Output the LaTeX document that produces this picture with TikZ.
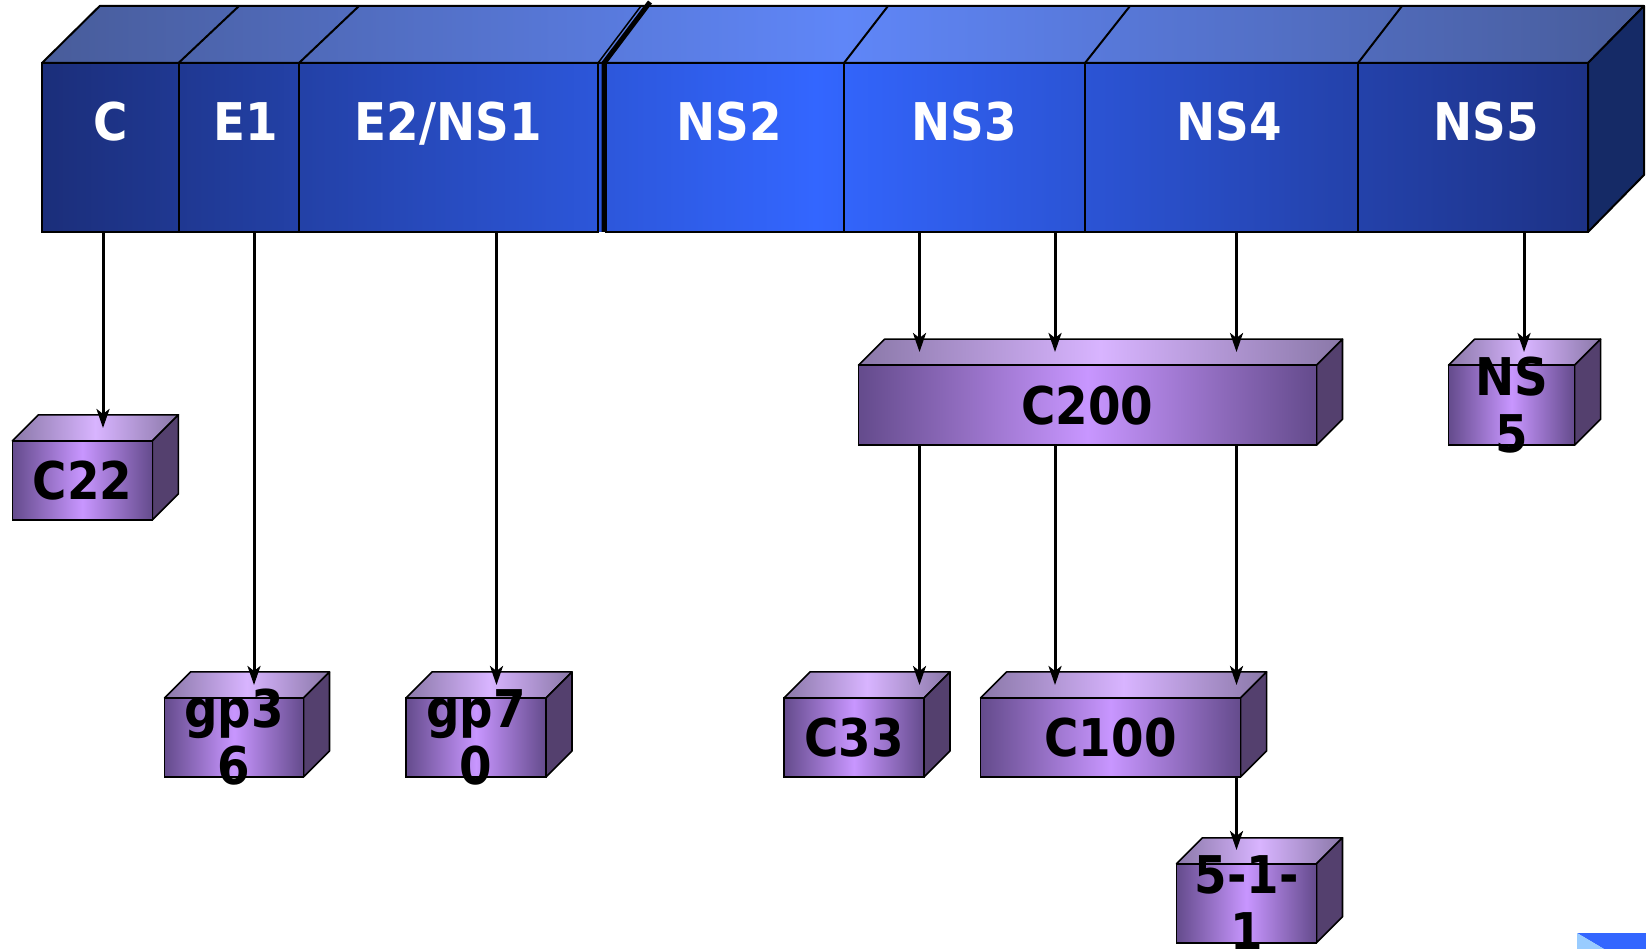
\documentclass[tikz,border=0pt]{standalone}
\usepackage{fontspec}
\newfontfamily\boxfont{DejaVu Sans}[FakeStretch=0.9]
\usetikzlibrary{positioning,arrows.meta,backgrounds}

\definecolor{barDark}{HTML}{1B2E7A}
\definecolor{barMid}{HTML}{3366FF}
\definecolor{barRight}{HTML}{1D3286}
\definecolor{barTopDark}{HTML}{485C9A}
\definecolor{barTopMid}{HTML}{5F86F8}
\definecolor{barSide}{HTML}{152A66}
\definecolor{boxDark}{HTML}{644B8C}
\definecolor{boxMid}{HTML}{C896FF}
\definecolor{boxTopDark}{HTML}{8A78A8}
\definecolor{boxTopMid}{HTML}{D8B4FF}
\definecolor{boxSide}{HTML}{54406E}
\definecolor{tabBlue}{HTML}{3366FF}
\definecolor{tabLight}{HTML}{99CCFF}

\newcommand{\dep}{26} % depth of the small cubes

\begin{document}
\begin{tikzpicture}[x=1pt,y=-1pt,
    seg/.style={draw, line width=2pt, minimum height=169, inner sep=0pt, outer sep=0pt,
      text=white, font=\boxfont\bfseries\fontsize{52}{57}\selectfont, text height=38pt, text depth=51pt},
    cube/.style={draw, line width=1.6pt, minimum height=79, inner sep=0pt, outer sep=0pt,
      left color=boxDark, right color=boxDark, middle color=boxMid},
    lbl/.style={align=center, inner sep=0pt, font=\boxfont\bfseries\fontsize{52}{57}\selectfont},
    arr/.style={line width=3pt, -{Stealth[length=19pt,width=13pt,inset=5pt]}}]

    \begin{scope}[on background layer]
        \fill[white] (0,0) rectangle (1646,949);
    \end{scope}
    \useasboundingbox (0,0) rectangle (1646,949);

    % the long bar
    \shade[left color=barDark, right color=barRight, middle color=barMid] (42,63) rectangle (1588,232);
    \shadedraw[line width=2pt, line join=round, left color=barTopDark, right color=barTopDark, middle color=barTopMid]
        (42,63) -- (99.7,6) -- (1644,6) -- (1588,63) -- cycle;
    \filldraw[fill=barSide, line width=2pt, line join=round] (1588,63) -- (1644,6) -- (1644,175) -- (1588,232) -- cycle;

    \node[seg, minimum width=136.5, anchor=north west] (segC) at (42,63) {C};
    \node[seg, minimum width=120.5, right=0pt of segC] (segEi) {\hspace*{14pt}E1};
    \node[seg, minimum width=299, right=0pt of segEi] (segEii) {E2/NS1};
    \node[seg, minimum width=238, right=8pt of segEii] (segNSii) {\hspace*{8pt}NS2};
    \node[seg, minimum width=241, right=0pt of segNSii] (segNSiii) {NS3};
    \node[seg, minimum width=273, right=0pt of segNSiii] (segNSiv) {\hspace*{16pt}NS4};
    \node[seg, minimum width=230, right=0pt of segNSiv] (segNSv) {\hspace*{26pt}NS5};

    % edges on the top face
    \foreach \s/\x in {segEi/239, segEii/359, segNSiii/888, segNSiv/1130, segNSv/1402}
        \draw[line width=2pt] (\s.north west) -- (\x,6);

    % break mark
    \draw[line width=1.5pt] (segEii.north east) -- (641,6);
    \draw[line width=5pt] ([xshift=-2pt]segNSii.south west) -- ([xshift=-2pt]segNSii.north west) -- (650,2);

    % small cubes
    \node[cube, minimum width=140, label={[lbl]center:C22}] (c22) at (82.4,480.3) {};
    \node[cube, minimum width=139, label={[lbl]center:gp3\\6}] (gp36) at (234,737.4) {};
    \node[cube, minimum width=140, label={[lbl]center:gp7\\0}] (gp70) at (476,737.4) {};
    \node[cube, minimum width=140, label={[lbl]center:C33}] (c33) at (854,737.4) {};
    \node[cube, minimum width=260, label={[lbl]center:C100}] (c100) at (1110.6,737.4) {};
    \node[cube, minimum width=458, minimum height=80, label={[lbl]center:C200}] (c200) at (1087.5,405.2) {};
    \node[cube, minimum width=126, minimum height=80, label={[lbl]center:NS\\5}] (ns5) at (1511.6,405.2) {};
    \node[cube, minimum width=140, label={[lbl]center:5-1-\\1}] (c511) at (1246.5,903.3) {};

    \begin{scope}[on background layer]
        \foreach \n in {c22,gp36,gp70,c33,c100,c200,ns5,c511}{
            \shadedraw[line width=1.6pt, line join=round, left color=boxTopDark, right color=boxTopDark, middle color=boxTopMid]
                (\n.north west) -- ++(\dep,-\dep) -- ([shift={(\dep,-\dep)}]\n.north east) -- (\n.north east) -- cycle;
            \filldraw[fill=boxSide, line width=1.6pt, line join=round]
                (\n.north east) -- ++(\dep,-\dep) -- ([shift={(\dep,-\dep)}]\n.south east) -- (\n.south east) -- cycle;
        }
    \end{scope}

    % arrow tips on the top faces
    \coordinate (tipC22) at (103,428);
    \coordinate (tipGp36) at (254,685);
    \coordinate (tipGp70) at (496.5,685);
    \coordinate (tipA) at (919.5,352);
    \coordinate (tipB) at (1055,352);
    \coordinate (tipC) at (1236.5,352);
    \coordinate (tipNS5) at (1524,352);
    \coordinate (tipC33) at (919.5,685);
    \coordinate (tipC100a) at (1055,685);
    \coordinate (tipC100b) at (1236.5,685);
    \coordinate (tip511) at (1236.5,850);

    \draw[arr] (segC.south -| tipC22) -- (tipC22);
    \draw[arr] (segEi.south -| tipGp36) -- (tipGp36);
    \draw[arr] (segEii.south -| tipGp70) -- (tipGp70);
    \draw[arr] (segNSiii.south -| tipA) -- (tipA);
    \draw[arr] (segNSiii.south -| tipB) -- (tipB);
    \draw[arr] (segNSiv.south -| tipC) -- (tipC);
    \draw[arr] (segNSv.south -| tipNS5) -- (tipNS5);
    \draw[arr] (c200.south -| tipC33) -- (tipC33);
    \draw[arr] (c200.south -| tipC100a) -- (tipC100a);
    \draw[arr] (c200.south -| tipC100b) -- (tipC100b);
    \draw[arr] (c100.south -| tip511) -- (tip511);

    % corner of the slide tab
    \fill[tabBlue] (1577,933) -- (1646,933) -- (1646,949) -- (1604,949) -- cycle;
    \fill[tabLight] (1577,933) -- (1604,949) -- (1577,949) -- cycle;
\end{tikzpicture}
\end{document}
